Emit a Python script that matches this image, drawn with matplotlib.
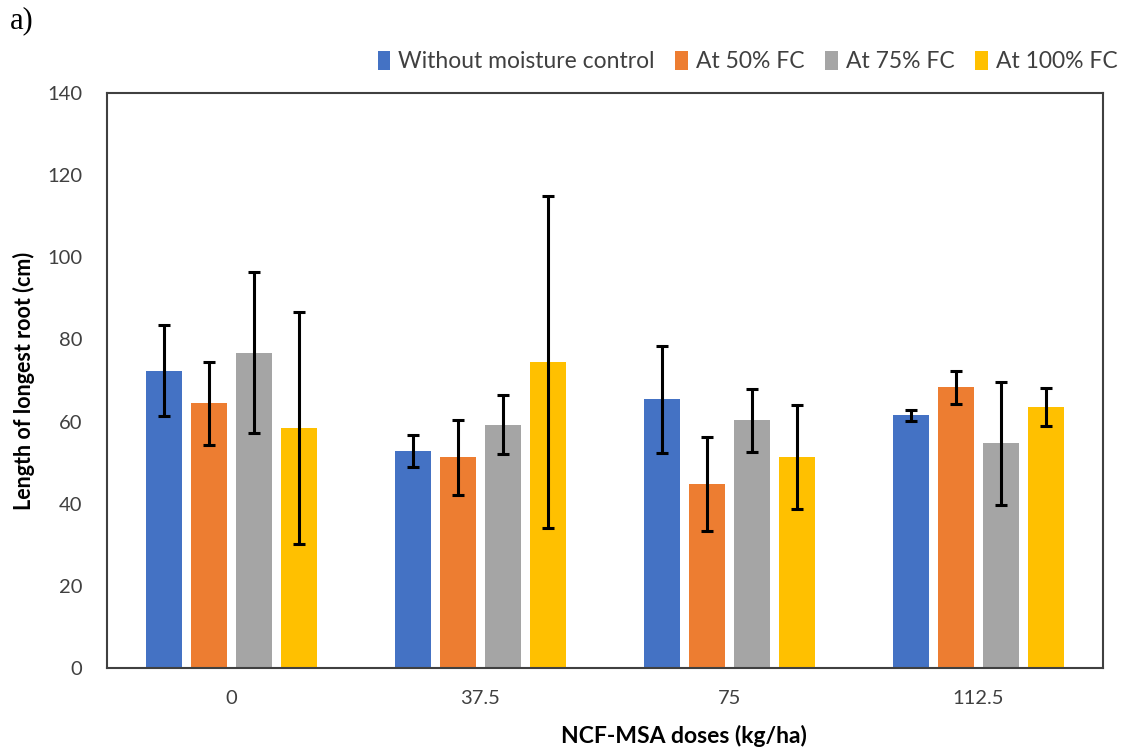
import numpy as np
import matplotlib.pyplot as plt

doses = ["0", "37.5", "75", "112.5"]
series = ["Without moisture control", "At 50% FC", "At 75% FC", "At 100% FC"]
colors = ["#4472C4", "#ED7D31", "#A5A5A5", "#FFC000"]

# mean root length (cm) per dose, one list per moisture treatment
no_control = [72.4, 52.8, 65.4, 61.5]
fc_50 = [64.4, 51.3, 44.8, 68.3]
fc_75 = [76.7, 59.2, 60.3, 54.7]
fc_100 = [58.5, 74.5, 51.3, 63.6]

# standard deviations
no_control_sd = [11.0, 3.9, 13.0, 1.4]
fc_50_sd = [10.1, 9.1, 11.4, 3.9]
fc_75_sd = [19.6, 7.2, 7.6, 15.0]
fc_100_sd = [28.2, 40.4, 12.7, 4.6]

means = [no_control, fc_50, fc_75, fc_100]
sds = [no_control_sd, fc_50_sd, fc_75_sd, fc_100_sd]

plt.rcParams['font.family'] = ['Lato', 'DejaVu Sans']

fig = plt.figure(figsize=(11.3, 7.5), dpi=100)
ax = fig.add_axes([107 / 1130, 82 / 750, 996 / 1130, 575 / 750])

x = np.arange(len(doses))
step = 0.181
width = 0.145
for i, (m, s, c, name) in enumerate(zip(means, sds, colors, series)):
    pos = x + (i - 1.5) * step
    ax.bar(pos, m, width, color=c, label=name, zorder=2)
    ax.errorbar(pos, m, yerr=s, fmt='none', ecolor='black', elinewidth=2.2,
                capsize=4.2, capthick=2.2, zorder=3)

ax.set_xlim(-0.5, len(doses) - 0.5)
ax.set_ylim(0, 140)
ax.set_yticks(range(0, 141, 20))
ax.set_xticks(x)
ax.set_xticklabels(doses)
ax.tick_params(axis='both', length=0, labelsize=14.5, colors='#404040')
ax.tick_params(axis='x', pad=16)
ax.tick_params(axis='y', pad=18)
for sp in ax.spines.values():
    sp.set_color('#404040')
    sp.set_linewidth(1.5)

ax.set_ylabel("Length of longest root (cm)", fontsize=15.5, fontweight='bold')
ax.yaxis.set_label_coords(-72 / 996, 0.5)
ax.set_xlabel("NCF-MSA doses (kg/ha)", fontsize=16.5, fontweight='bold')
ax.xaxis.set_label_coords(0.579, -57 / 575)

ax.legend(loc='lower right', bbox_to_anchor=(1.035, 1.0), ncol=4, frameon=False,
          fontsize=16.5, handlelength=0.55, handleheight=0.9, handletextpad=0.35,
          columnspacing=0.9, labelcolor='#404040')

fig.text(10 / 1130, 1 - 21 / 750, "a)", fontsize=22, family='Liberation Serif',
         va='center', ha='left')

fig.savefig("out.png", dpi=100)
